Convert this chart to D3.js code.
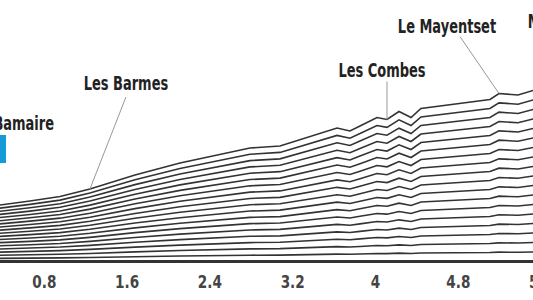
<!DOCTYPE html>
<html>
<head>
<meta charset="utf-8">
<script src="https://cdn.jsdelivr.net/npm/d3@7"></script>
<style>
  body { margin: 0; background: #fff; }
  svg { display: block; overflow: hidden; }
  .lbl { font-family: "DejaVu Sans Condensed", "DejaVu Sans", sans-serif; font-weight: bold; font-stretch: condensed; }
  .axis text { font-family: "DejaVu Sans Condensed", "DejaVu Sans", sans-serif; font-weight: bold; font-stretch: condensed; font-size: 18px; fill: #444; }
  .axis .domain { stroke: #333; stroke-width: 3; }
</style>
</head>
<body>
<div id="chart"></div>
<script>
// distance (km) and elevation (m) of the route profile
const profileKm   = [0, 0.377, 0.667, 0.957, 1.246, 1.681, 2.116, 2.792, 3.082, 3.633, 3.758, 3.855, 4.019, 4.116, 4.232, 4.348, 4.444, 5.111, 5.198, 5.382, 5.527, 5.7, 6.0];
const profileElev = [1502, 1526, 1542, 1560, 1590, 1646, 1694, 1754, 1762, 1834, 1822, 1842, 1876, 1868, 1900, 1876, 1912, 1948, 1972, 1966, 1984, 1994, 2004];

const baseElev = 1300;
const nLines = 18;

const tickKm = [0.8, 1.6, 2.4, 3.2, 4, 4.8, 5.6];

const placeNames = ["La Bamaire", "Les Barmes", "Les Combes", "Le Mayentset", "Mase"];
const placeKm    = [0, 1.246, 4.116, 5.198, 5.95];

const width = 533, height = 300;
const squeeze = 0.76; // the original uses a narrow DIN-like face

const svg = d3.select("#chart").append("svg")
    .attr("width", width).attr("height", height);

const x = d3.scaleLinear().domain([0, 5.6]).range([-39, 540.6]);
const y = d3.scaleLinear().domain([baseElev, 2000]).range([261.5, 86.5]);

const profile = profileKm.map((km, i) => ({km: km, elev: profileElev[i]}));
const elevAt = (km) => {
  const i = d3.bisector(d => d.km).left(profile, km);
  if (i <= 0) return profile[0].elev;
  if (i >= profile.length) return profile[profile.length - 1].elev;
  const a = profile[i - 1], b = profile[i];
  return a.elev + (b.elev - a.elev) * (km - a.km) / (b.km - a.km);
};

// start marker
svg.append("rect")
    .attr("x", x(0) + 9).attr("y", 135)
    .attr("width", 36).attr("height", 28)
    .attr("fill", "#169bd8");

const line = d3.line()
    .x(d => x(d.km))
    .y(d => y(d.elev));

const layers = d3.range(1, nLines + 1).map(i => profile.map(d => ({
  km: d.km,
  elev: baseElev + (d.elev - baseElev) * i / nLines
})));

svg.append("g").selectAll("path")
  .data(layers)
  .join("path")
    .attr("d", line)
    .attr("fill", "none")
    .attr("stroke", "#333")
    .attr("stroke-width", 1.6)
    .attr("stroke-linejoin", "miter");

const axis = svg.append("g")
    .attr("class", "axis")
    .attr("transform", `translate(0,${y(baseElev)})`)
    .call(d3.axisBottom(x).tickValues(tickKm).tickSize(0).tickPadding(13.5).tickFormat(d3.format("~g")));
axis.select(".domain").attr("d", `M${x(-1)},0H${x(7)}`);
axis.selectAll(".tick text").attr("transform", `scale(0.84,1)`);

// label offsets from the point on the profile: [text dx, text dy, leader end dx, leader end dy]
const labelPos = [
  [93, -81, null, null],
  [36, -99, 36, -92],
  [-5, -43, 0, -38],
  [-52, -61, -39, -57],
  [-30, -58, -30, -50]
];

const ann = svg.append("g");
placeNames.forEach((name, i) => {
  const px = x(placeKm[i]), py = y(elevAt(placeKm[i]));
  const [dx, dy, lx, ly] = labelPos[i];
  if (ly !== null) {
    ann.append("line")
      .attr("x1", px).attr("y1", py)
      .attr("x2", px + lx).attr("y2", py + ly)
      .attr("stroke", "#999").attr("stroke-width", 1);
  }
  ann.append("g")
    .attr("transform", `translate(${px + dx},${py + dy}) scale(${squeeze},1)`)
    .append("text")
      .attr("class", "lbl")
      .attr("text-anchor", i === 0 ? "end" : "middle")
      .attr("font-size", 19)
      .attr("fill", "#222")
      .text(name);
});
</script>
</body>
</html>
